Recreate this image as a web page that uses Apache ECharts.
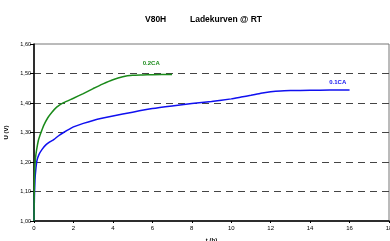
<!DOCTYPE html>
<html>
<head>
<meta charset="utf-8">
<script src="https://cdn.jsdelivr.net/npm/echarts@6/dist/echarts.min.js"></script>
<style>html,body{margin:0;padding:0;background:#fff}#c{width:390px;height:241px}</style>
</head>
<body>
<div id="c"></div>
<script>
const titleLeft = 'V80H';
const titleRight = 'Ladekurven @ RT';
const xTicks = [0, 2, 4, 6, 8, 10, 12, 14, 16, 18];
const yTicks = [1.0, 1.1, 1.2, 1.3, 1.4, 1.5, 1.6];
const seriesNames = ['0.1CA', '0.2CA'];
const blueT = [0, 0.02, 0.05, 0.1, 0.15, 0.25, 0.4, 0.6, 0.8, 1.0, 1.25, 1.5, 2.0, 2.5, 3.0, 3.5, 4.0, 5.0, 6.0, 7.0, 8.0, 9.0, 10.0, 10.5, 11.0, 11.5, 12.0, 12.5, 13.0, 14.0, 15.0, 16.0];
const blueU = [1.00, 1.08, 1.14, 1.18, 1.205, 1.225, 1.242, 1.258, 1.268, 1.276, 1.289, 1.300, 1.319, 1.331, 1.341, 1.349, 1.356, 1.369, 1.381, 1.390, 1.398, 1.405, 1.414, 1.420, 1.426, 1.433, 1.438, 1.441, 1.442, 1.443, 1.444, 1.444];
const greenT = [0, 0.01, 0.02, 0.04, 0.08, 0.13, 0.22, 0.3, 0.4, 0.5, 0.7, 0.9, 1.15, 1.5, 2.0, 2.5, 3.0, 3.5, 4.0, 4.5, 5.0, 5.5, 6.0, 7.0];
const greenU = [1.00, 1.08, 1.14, 1.18, 1.215, 1.24, 1.273, 1.29, 1.308, 1.325, 1.35, 1.368, 1.386, 1.401, 1.416, 1.432, 1.449, 1.465, 1.479, 1.489, 1.494, 1.495, 1.496, 1.497];
const blueLabelAt = [15.4, 1.444];
const greenLabelAt = [6.2, 1.496];

const zip = (a, b) => a.map((v, i) => [v, b[i]]);
const chart = echarts.init(document.getElementById('c'), null, {renderer: 'canvas'});
const font = 'Liberation Sans, Arial, sans-serif';
chart.setOption({
  animation: false,
  title: [
    {text: titleLeft, left: 140, top: 10, textStyle: {fontSize: 8.5, fontWeight: 'bold', color: '#000', fontFamily: font}},
    {text: titleRight, left: 185, top: 10, textStyle: {fontSize: 8.5, fontWeight: 'bold', color: '#000', fontFamily: font}}
  ],
  grid: {left: 34, right: 1, top: 44, bottom: 20, show: true, borderColor: '#777', borderWidth: 1, containLabel: false, outerBoundsMode: 'none'},
  xAxis: {
    type: 'value', min: xTicks[0], max: xTicks[xTicks.length - 1], interval: 2,
    name: 't (h)', nameLocation: 'middle', nameGap: 16,
    nameTextStyle: {fontSize: 6, fontWeight: 'bold', color: '#000', fontFamily: font},
    axisLine: {lineStyle: {color: '#000', width: 1.5}},
    axisTick: {show: true, inside: false, length: 2, lineStyle: {color: '#000'}},
    axisLabel: {fontSize: 6, color: '#000', margin: 4, fontFamily: font, showMaxLabel: true},
    splitLine: {show: false}
  },
  yAxis: {
    type: 'value', min: yTicks[0], max: yTicks[yTicks.length - 1], interval: 0.1,
    name: 'U (V)', nameLocation: 'middle', nameGap: 17, nameRotate: 90,
    nameTextStyle: {fontSize: 6, fontWeight: 'bold', color: '#000', fontFamily: font},
    axisLine: {show: true, lineStyle: {color: '#000', width: 1.5}},
    axisTick: {show: true, inside: false, length: 4, lineStyle: {color: '#000'}},
    axisLabel: {fontSize: 5.5, color: '#000', margin: 3, fontFamily: font,
      formatter: v => v.toFixed(2).replace('.', ',')},
    splitLine: {show: true, showMinLine: false, showMaxLine: false,
      lineStyle: {color: '#444', width: 1, type: [7, 5]}}
  },
  series: [
    {
      name: seriesNames[0], type: 'line', data: zip(blueT, blueU), showSymbol: false, smooth: 0.15,
      lineStyle: {color: '#1010f0', width: 1.5}, z: 3,
      markPoint: {symbol: 'circle', symbolSize: 0, silent: true,
        data: [{coord: blueLabelAt}],
        label: {show: true, formatter: seriesNames[0], offset: [0, -8], fontSize: 6, fontWeight: 'bold', color: '#1010f0', fontFamily: font}}
    },
    {
      name: seriesNames[1], type: 'line', data: zip(greenT, greenU), showSymbol: false, smooth: 0.15,
      lineStyle: {color: '#1a8a1a', width: 1.5}, z: 4,
      markPoint: {symbol: 'circle', symbolSize: 0, silent: true,
        data: [{coord: greenLabelAt}],
        label: {show: true, formatter: seriesNames[1], offset: [-5, -11], fontSize: 6, fontWeight: 'bold', color: '#1a8a1a', fontFamily: font}}
    }
  ]
});
</script>
</body>
</html>
